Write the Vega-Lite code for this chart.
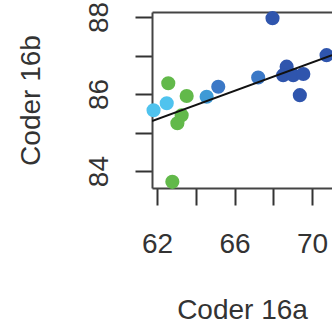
{
  "$schema": "https://vega.github.io/schema/vega-lite/v6.json",
  "autosize": {"type": "none"},
  "width": 180,
  "height": 176,
  "padding": {"left": 152, "top": 12, "right": 0, "bottom": 137},
  "background": "white",
  "config": {
    "view": {"stroke": null},
    "font": "Liberation Sans",
    "axis": {
      "grid": false,
      "domainColor": "#444",
      "domainWidth": 2,
      "tickColor": "#333",
      "tickWidth": 2,
      "tickSize": 17,
      "labelFont": "Liberation Sans",
      "labelFontSize": 28,
      "labelColor": "#333",
      "titleFont": "Liberation Sans",
      "titleFontSize": 28,
      "titleFontWeight": "normal",
      "titleColor": "#333",
      "labelOverlap": false
    }
  },
  "datasets": {
    "pts": [
      {"a": 67.96, "b": 87.97, "g": "g5"},
      {"a": 62.79, "b": 83.72, "g": "g1"},
      {"a": 62.58, "b": 86.28, "g": "g1"},
      {"a": 63.53, "b": 85.95, "g": "g1"},
      {"a": 63.27, "b": 85.45, "g": "g1"},
      {"a": 63.05, "b": 85.24, "g": "g1"},
      {"a": 62.50, "b": 85.76, "g": "g2"},
      {"a": 61.82, "b": 85.58, "g": "g2"},
      {"a": 64.56, "b": 85.93, "g": "g3"},
      {"a": 65.16, "b": 86.19, "g": "g4"},
      {"a": 67.22, "b": 86.43, "g": "g4"},
      {"a": 68.69, "b": 86.71, "g": "g5"},
      {"a": 68.51, "b": 86.49, "g": "g5"},
      {"a": 69.03, "b": 86.49, "g": "g5"},
      {"a": 69.55, "b": 86.52, "g": "g5"},
      {"a": 69.37, "b": 85.97, "g": "g5"},
      {"a": 70.75, "b": 87.01, "g": "g5"}
    ],
    "fit": [
      {"a": 61.74, "b": 85.30},
      {"a": 71.03, "b": 87.01}
    ]
  },
  "layer": [
    {
      "data": {"name": "pts"},
      "mark": {"type": "circle", "size": 200, "opacity": 1},
      "encoding": {
        "x": {
          "field": "a", "type": "quantitative",
          "scale": {"domain": [61.74, 71.03], "nice": false, "zero": false},
          "axis": {
            "title": "Coder 16a",
            "values": [62, 64, 66, 68, 70],
            "labelExpr": "datum.value % 4 == 2 ? datum.label : ''",
            "labelPadding": 25,
            "titlePadding": 38,
            "domain": true
          }
        },
        "y": {
          "field": "b", "type": "quantitative",
          "scale": {"domain": [83.56, 88.13], "nice": false, "zero": false},
          "axis": {
            "title": "Coder 16b",
            "values": [84, 85, 86, 87, 88],
            "labelExpr": "datum.value % 2 == 0 ? datum.label : ''",
            "labelAngle": -90,
            "labelAlign": "center",
            "labelBaseline": "bottom",
            "labelPadding": 22,
            "titlePadding": 40,
            "domain": true
          }
        },
        "color": {
          "field": "g", "type": "nominal", "legend": null,
          "scale": {
            "domain": ["g1", "g2", "g3", "g4", "g5"],
            "range": ["#62b94a", "#4fc3ee", "#3e9ad6", "#3b78c6", "#2f55ad"]
          }
        }
      }
    },
    {
      "data": {"name": "fit"},
      "mark": {"type": "line", "color": "#111", "strokeWidth": 2, "clip": true},
      "encoding": {
        "x": {
          "field": "a", "type": "quantitative",
          "axis": {"orient": "top", "title": null, "labels": false, "ticks": false, "domain": true}
        },
        "y": {"field": "b", "type": "quantitative"}
      }
    }
  ],
  "resolve": {"axis": {"x": "independent"}}
}
